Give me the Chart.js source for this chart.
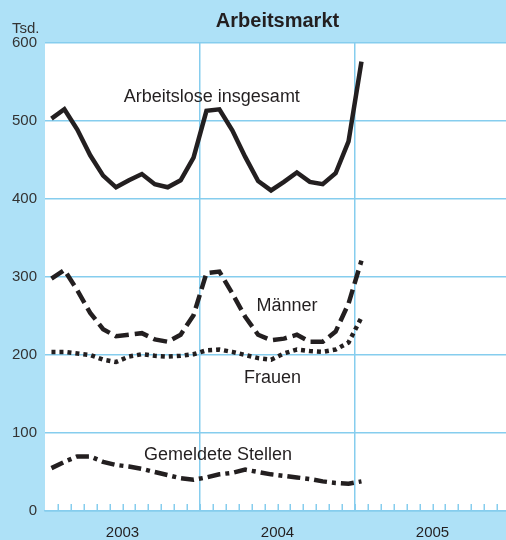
<!DOCTYPE html>
<html>
<head>
<meta charset="utf-8">
<script src="https://cdn.jsdelivr.net/npm/chart.js@4/dist/chart.umd.min.js"></script>
<style>
  html, body { margin: 0; padding: 0; overflow: hidden; background: #aee1f7; }
  #wrap { width: 510px; height: 540px; }
</style>
</head>
<body>
<div id="wrap"><canvas id="c" width="510" height="540"></canvas></div>
<script>
// Monthly figures in thousands, January 2003 to January 2005
const months = [
  'Jan 2003','Feb 2003','Mär 2003','Apr 2003','Mai 2003','Jun 2003',
  'Jul 2003','Aug 2003','Sep 2003','Okt 2003','Nov 2003','Dez 2003',
  'Jan 2004','Feb 2004','Mär 2004','Apr 2004','Mai 2004','Jun 2004',
  'Jul 2004','Aug 2004','Sep 2004','Okt 2004','Nov 2004','Dez 2004',
  'Jan 2005'
];
const years = ['2003', '2004', '2005'];
const yTicks = [0, 100, 200, 300, 400, 500, 600];

const arbeitslose = [503, 515, 489, 456, 430, 415, 424, 432, 419, 415, 424, 453,
                     513, 515, 488, 454, 423, 411, 422, 434, 422, 419, 433, 474, 576];
const maenner     = [298, 309, 283, 254, 233, 224, 226, 228, 220, 217, 226, 251,
                     305, 307, 279, 249, 226, 219, 221, 226, 217, 217, 230, 266, 321];
const frauen      = [204, 204, 202, 200, 194, 191, 198, 201, 199, 198, 199, 201,
                     206, 207, 204, 200, 196, 194, 202, 207, 205, 204, 207, 216, 248];
const stellen     = [55, 63, 70, 70, 63, 59, 57, 54, 50, 46, 42, 40,
                     43, 47, 49, 53, 50, 47, 45, 43, 41, 38, 36, 35, 38];

const INK = '#231f20';
const GRID = '#86cdee';
const FONT = '"Liberation Sans", Arial, Helvetica, sans-serif';

// each month sits in the middle of its slot on a 36-month axis
const toPoints = vals => vals.map((v, i) => ({ x: i + 0.5, y: v }));

function series(label, vals, dash) {
  return {
    label,
    data: toPoints(vals),
    borderColor: INK,
    borderWidth: 4.5,
    borderDash: dash,
    borderCapStyle: 'butt',
    borderJoinStyle: 'miter',
    pointRadius: 0,
    tension: 0,
    fill: false
  };
}

// series captions, anchored in axis units (month, value)
const captions = [
  { text: 'Arbeitslose insgesamt', at: [6.1, 525] },
  { text: 'Männer',                at: [16.37, 257] },
  { text: 'Frauen',                at: [15.4, 164.5] },
  { text: 'Gemeldete Stellen',     at: [7.66, 66] }
];

const decor = {
  id: 'decor',
  beforeDraw(chart) {
    const { ctx, chartArea: a } = chart;
    ctx.save();
    ctx.fillStyle = '#ffffff';
    ctx.fillRect(a.left, a.top, a.right - a.left, a.bottom - a.top);
    ctx.restore();
  },
  afterDatasetsDraw(chart) {
    const { ctx, chartArea: a, scales } = chart;
    const xs = scales.x, ys = scales.y;
    ctx.save();
    // short month marks standing on the time axis
    ctx.strokeStyle = GRID;
    ctx.lineWidth = 1.5;
    for (let m = 1; m < 36; m++) {
      const px = Math.round(xs.getPixelForValue(m)) + 0.25;
      ctx.beginPath();
      ctx.moveTo(px, a.bottom - 7);
      ctx.lineTo(px, a.bottom);
      ctx.stroke();
    }
    // captions next to the curves
    ctx.fillStyle = INK;
    ctx.font = '18px ' + FONT;
    ctx.textAlign = 'left';
    ctx.textBaseline = 'alphabetic';
    captions.forEach(c => {
      ctx.fillText(c.text, xs.getPixelForValue(c.at[0]), ys.getPixelForValue(c.at[1]));
    });
    // heading and unit
    ctx.font = 'bold 20px ' + FONT;
    ctx.textAlign = 'center';
    ctx.fillText('Arbeitsmarkt', (a.left + a.right) / 2, 27);
    ctx.font = '15px ' + FONT;
    ctx.fillStyle = '#333333';
    ctx.textAlign = 'left';
    ctx.fillText('Tsd.', 12, 33);
    ctx.restore();
  }
};

new Chart(document.getElementById('c'), {
  type: 'line',
  data: {
    datasets: [
      series('Arbeitslose insgesamt', arbeitslose, []),
      series('Männer', maenner, [14, 6]),
      series('Frauen', frauen, [4, 4]),
      series('Gemeldete Stellen', stellen, [13, 5, 4, 5])
    ]
  },
  options: {
    responsive: false,
    animation: false,
    layout: { padding: { top: 43, left: 0, right: 0, bottom: 0 } },
    plugins: { legend: { display: false }, tooltip: { enabled: false }, title: { display: false } },
    scales: {
      x: {
        type: 'linear',
        min: 0,
        max: 36,
        afterFit(s) { s.height = 29; s.paddingRight = 0; s.paddingLeft = 0; },
        afterBuildTicks(s) {
          const t = [];
          for (let v = 0; v <= 36; v += 6) t.push({ value: v });
          s.ticks = t;
        },
        ticks: {
          autoSkip: false,
          maxRotation: 0,
          padding: 0,
          color: INK,
          font: { family: FONT, size: 15 },
          callback: v => (v % 12 === 6 ? years[(v - 6) / 12] : '')
        },
        grid: {
          drawTicks: true,
          tickLength: 13,
          tickColor: 'rgba(0,0,0,0)',
          lineWidth: 1.5,
          color: c => (c.tick && c.tick.value % 12 === 0 && c.tick.value > 0 ? GRID : 'rgba(0,0,0,0)')
        },
        border: { display: true, color: GRID, width: 1.5 }
      },
      y: {
        min: 0,
        max: 600,
        afterFit(s) { s.width = 45; },
        afterBuildTicks(s) { s.ticks = yTicks.map(v => ({ value: v })); },
        ticks: {
          padding: 8,
          color: '#333333',
          font: { family: FONT, size: 15 }
        },
        grid: { drawTicks: false, lineWidth: 1.5, color: GRID },
        border: { display: false }
      }
    }
  },
  plugins: [decor]
});
</script>
</body>
</html>
